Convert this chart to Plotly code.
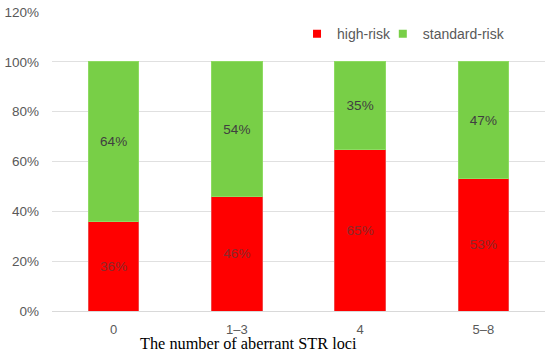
import plotly.graph_objects as go

categories = ["0", "1–3", "4", "5–8"]
high_risk = [0.36, 0.46, 0.65, 0.53]
standard_risk = [0.64, 0.54, 0.35, 0.47]
y_ticks = [0, 0.2, 0.4, 0.6, 0.8, 1.0, 1.2]

RED = "#FF0000"
GREEN = "#78CF47"

fig = go.Figure()
fig.add_trace(go.Bar(
    x=categories, y=high_risk, name="high-risk", showlegend=False,
    marker=dict(color=RED, line=dict(color="#F04848", width=1)),
    text=[f"{round(v*100)}%" for v in high_risk], textposition="inside",
    insidetextanchor="middle",
    textfont=dict(color="#8A2A2A", size=13.5, family="Liberation Sans, Arial"),
))
fig.add_trace(go.Bar(
    x=categories, y=standard_risk, name="standard-risk", showlegend=False,
    marker=dict(color=GREEN, line=dict(color="#8EDB62", width=1)),
    text=[f"{round(v*100)}%" for v in standard_risk], textposition="inside",
    insidetextanchor="middle",
    textfont=dict(color="#404040", size=13.5, family="Liberation Sans, Arial"),
))
# legend entries (small square markers, as in the reference)
fig.add_trace(go.Scatter(x=[None], y=[None], mode="markers", name="high-risk",
                         legend="legend",
                         marker=dict(symbol="square", size=8, color=RED)))
fig.add_trace(go.Scatter(x=[None], y=[None], mode="markers", name="standard-risk",
                         legend="legend2",
                         marker=dict(symbol="square", size=8, color=GREEN)))

leg_common = dict(orientation="h", y=0.926, xanchor="left", yanchor="middle",
                  font=dict(size=14, color="#595959"), bgcolor="rgba(0,0,0,0)",
                  itemwidth=30)
fig.update_layout(
    barmode="stack", bargap=0.59,
    width=550, height=354,
    margin=dict(l=52, r=5, t=12, b=43),
    plot_bgcolor="white", paper_bgcolor="white",
    font=dict(family="Liberation Sans, Arial", color="#595959", size=13),
    showlegend=True,
    legend=dict(x=0.497, **leg_common),
    legend2=dict(x=0.671, **leg_common),
    uniformtext=dict(mode="show", minsize=12),
)
fig.update_yaxes(range=[0, 1.2], tickvals=y_ticks, tickformat=".0%",
                 gridcolor="#E0E0E0", gridwidth=1, zeroline=False,
                 showline=False, ticks="", automargin=False, ticklabelstandoff=12,
                 tickfont=dict(size=13.5, color="#595959"))
fig.update_xaxes(showline=True, linecolor="#D9D9D9", ticks="", automargin=False,
                 ticklabelstandoff=6,
                 tickfont=dict(size=13, color="#595959"))
fig.add_annotation(text="The number of aberrant STR loci", xref="paper", yref="paper",
                   x=(248-52)/493, y=-0.108, xanchor="center", yanchor="middle",
                   showarrow=False,
                   font=dict(family="Liberation Serif, Times New Roman", size=16.3, color="#000000"))

fig.write_html("out.html", config={"displayModeBar": False},
               post_script="document.body.style.margin='0px';document.body.style.overflow='hidden';")
